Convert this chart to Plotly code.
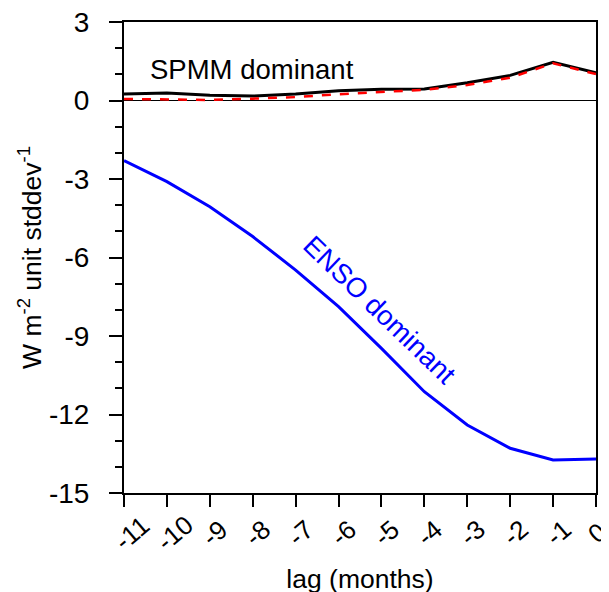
import plotly.graph_objects as go

lags = [-11, -10, -9, -8, -7, -6, -5, -4, -3, -2, -1, 0]
tick_labels = ["-11", "-10", "-9", "-8", "-7", "-6", "-5", "-4", "-3", "-2", "-1", "0"]
spmm_total = [0.25, 0.29, 0.20, 0.17, 0.25, 0.37, 0.43, 0.44, 0.68, 0.96, 1.46, 1.06]
spmm_dashed = [0.06, 0.03, 0.02, 0.07, 0.13, 0.24, 0.33, 0.41, 0.59, 0.87, 1.42, 1.01]
enso = [-2.30, -3.10, -4.06, -5.20, -6.48, -7.88, -9.47, -11.13, -12.40, -13.29, -13.74, -13.70]
y_ticks = [3, 0, -3, -6, -9, -12, -15]

FONT = "Liberation Sans, Arial, Helvetica, sans-serif"

fig = go.Figure()
fig.add_hline(y=0, line=dict(color="black", width=1), layer="below")
fig.add_trace(go.Scatter(x=lags, y=enso, mode="lines", line=dict(color="#0000ff", width=3), cliponaxis=False))
fig.add_trace(go.Scatter(x=lags, y=spmm_total, mode="lines", line=dict(color="black", width=3), cliponaxis=False))
fig.add_trace(go.Scatter(x=lags, y=spmm_dashed, mode="lines", line=dict(color="#ff0000", width=2.5, dash="dash"), cliponaxis=False))

# rotated x tick labels (start of text roughly fixed relative to tick)
shift_by_len = {1: 1, 2: 5, 3: 8}
for x, lab in zip(lags, tick_labels):
    fig.add_annotation(x=x, y=-15, yref="y", text=lab, showarrow=False, textangle=-40,
                       yshift=-40, xshift=shift_by_len[len(lab)],
                       font=dict(size=26, color="black", family=FONT))

fig.add_annotation(x=-8.02, y=1.18, text="SPMM dominant", showarrow=False,
                   font=dict(size=27.5, color="black", family=FONT))
fig.add_annotation(x=-5.05, y=-8.0, text="ENSO dominant", showarrow=False, textangle=44,
                   font=dict(size=27.5, color="#0000ff", family=FONT))

fig.update_layout(
    width=609, height=592,
    margin=dict(l=116, r=21, t=14, b=107),
    paper_bgcolor="white", plot_bgcolor="white",
    showlegend=False,
    font=dict(family=FONT, size=24, color="black"),
    xaxis=dict(range=[-11, 0], tickvals=lags, showticklabels=False, ticks="outside",
               ticklen=12, tickwidth=1.5, tickcolor="black", showgrid=False, zeroline=False,
               showline=True, linecolor="black", linewidth=2, mirror=True, automargin=False,
               title=dict(text="lag (months)", font=dict(size=26.5), standoff=63)),
    yaxis=dict(range=[-15, 3], tickvals=y_ticks, ticktext=[str(v) for v in y_ticks],
               ticks="outside", ticklen=13, tickwidth=1.5, tickcolor="black",
               tickfont=dict(size=28), ticklabelstandoff=14, automargin=False,
               ticklabeloverflow="allow",
               minor=dict(dtick=1, tick0=0, ticks="outside", ticklen=7, tickwidth=1.5, tickcolor="black"),
               showgrid=False, zeroline=False,
               showline=True, linecolor="black", linewidth=2, mirror=True,
               title=dict(text="W m<sup>-2</sup> unit stddev<sup>-1</sup>", font=dict(size=26.5), standoff=0)),
)

fig.write_html("out.html")
